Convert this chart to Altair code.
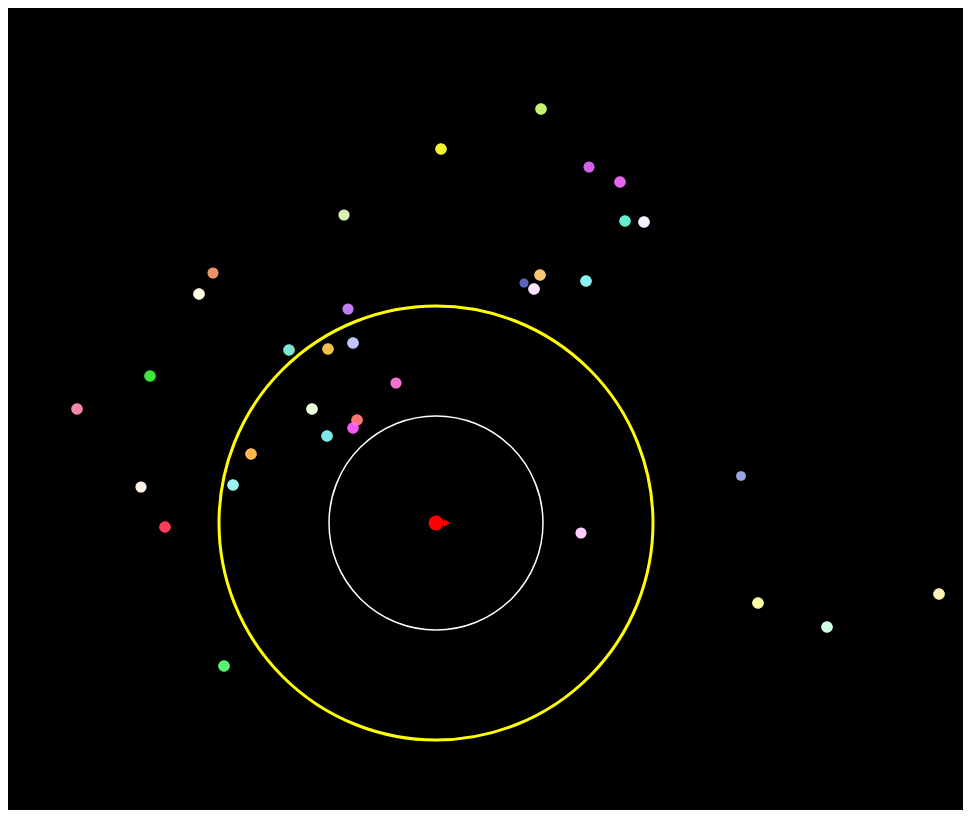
import altair as alt
import pandas as pd

# ---- data (centre of the scene = the red ship, y axis pointing up) ----
star_x = [105, 5, 153, 184, -92, 189, 208, -223, -237, 104, 88, 98, 150,
          -88, -147, -108, -83, -286, -40, -359, -124, -79, -83, -109, -185,
          305, -295, -203, -271, 145, 322, 391, 503, -212]
star_y = [414, 374, 356, 341, 308, 302, 301, 250, 229, 248, 240, 234, 242,
          214, 173, 174, 180, 147, 140, 114, 114, 103, 95, 87, 69,
          47, 36, 38, -4, -10, -80, -104, -71, -143]
star_color = ["#b4f04a", "#f0f000", "#c83ce0", "#e040e8", "#d0f0a0", "#40e8c8",
              "#f0f0ff", "#e87840", "#fffce0", "#f8b850", "#3040b0", "#ffe0ff",
              "#70f0f0", "#b060f0", "#60e0c8", "#f0b020", "#b0b8ff", "#10e010",
              "#f050c8", "#f06898", "#e8ffd0", "#ff5050", "#f030f0", "#60e0e8",
              "#ffa820", "#8090e0", "#fff0e0", "#80f0f0", "#ff1030", "#ffc0ff",
              "#ffff90", "#c0ffe0", "#fff0a0", "#30f050"]
star_mag = [1, 1, 0.9, 1, 0.9, 1, 1, 0.9, 1, 1, 0.6, 1, 1,
            0.9, 1, 1, 1, 1, 0.9, 1, 1, 1, 1, 1, 1,
            0.7, 0.9, 1, 1, 0.9, 1, 1, 1, 1]

ring_radius = [217, 107]
ring_color = ["#ffff00", "#ffffff"]
ring_width = [3, 1.5]

ship_x = [0]
ship_y = [0]
ship_heading = [0]

X_DOMAIN = [-428, 527]
Y_DOMAIN = [-287, 515]
W, H = 955, 802

stars = pd.DataFrame({"x": star_x, "y": star_y, "color": star_color, "mag": star_mag})
ship = pd.DataFrame({"x": ship_x, "y": ship_y, "heading": ship_heading})

xs = alt.X("x:Q", scale=alt.Scale(domain=X_DOMAIN, nice=False, zero=False), axis=None)
ys = alt.Y("y:Q", scale=alt.Scale(domain=Y_DOMAIN, nice=False, zero=False), axis=None)

layers = []
for r, c, w in zip(ring_radius, ring_color, ring_width):
    df = pd.DataFrame({"x": [0], "y": [0], "r": [r]})
    layers.append(
        alt.Chart(df)
        # Vega's circle symbol has radius sqrt(size)/2
        .transform_calculate(area="4 * datum.r * datum.r")
        .mark_point(shape="circle", filled=False, color=c, strokeWidth=w, opacity=1)
        .encode(x=xs, y=ys, size=alt.Size("area:Q", scale=None, legend=None))
    )

base = alt.Chart(stars).encode(x=xs, y=ys, color=alt.Color("color:N", scale=None))
glow = base.mark_circle(opacity=0.3).encode(
    size=alt.Size("mag:Q", scale=alt.Scale(domain=[0, 1], range=[0, 135]), legend=None))
core = base.mark_circle(opacity=1).encode(
    size=alt.Size("mag:Q", scale=alt.Scale(domain=[0, 1], range=[0, 62]), legend=None))
hi = alt.Chart(stars).mark_circle(color="#ffffff", opacity=0.2).encode(
    x=xs, y=ys,
    size=alt.Size("mag:Q", scale=alt.Scale(domain=[0, 1], range=[0, 12]), legend=None))

ship_nose = alt.Chart(ship).mark_point(
    shape="triangle-right", filled=True, color="#ff0000", opacity=1, size=60
).encode(x=xs, y=ys, angle=alt.Angle("heading:Q", scale=None), xOffset=alt.value(11))
ship_body = alt.Chart(ship).mark_circle(color="#ff0000", opacity=1, size=220).encode(x=xs, y=ys)

chart = (
    alt.layer(*layers, glow, core, hi, ship_nose, ship_body)
    .properties(width=W, height=H, padding=0, background="#000000")
    .configure_view(stroke=None, fill="#000000")
)

chart.save("out.html", embed_options={"renderer": "svg", "actions": False})
